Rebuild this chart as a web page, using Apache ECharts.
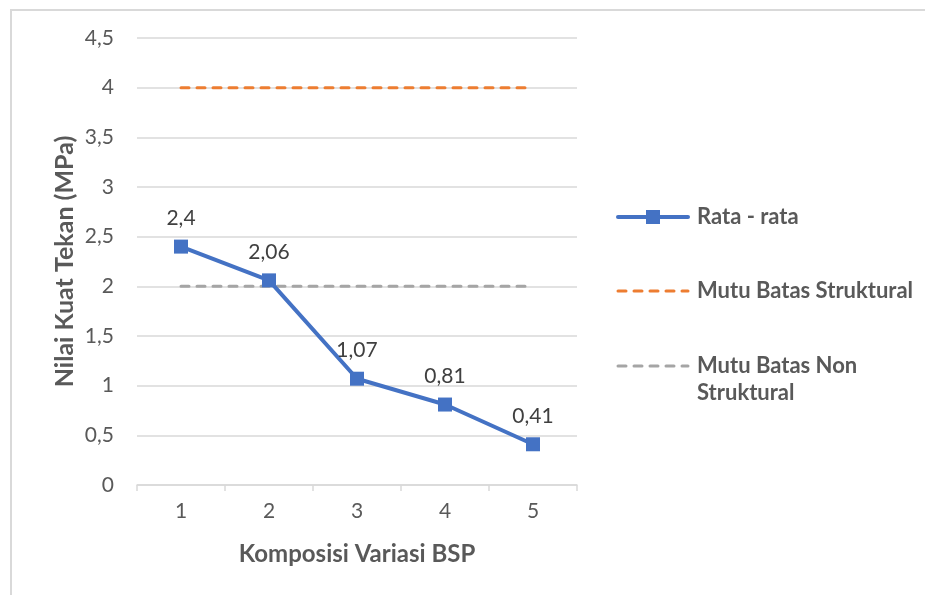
<!DOCTYPE html>
<html>
<head>
<meta charset="utf-8">
<script src="https://cdn.jsdelivr.net/npm/echarts@6/dist/echarts.min.js"></script>
<style>
  html, body { margin: 0; padding: 0; background: #fff; }
  #chart { width: 925px; height: 595px; }
</style>
</head>
<body>
<div id="chart"></div>
<script>
// Compressive strength per BSP composition variant
const categories = ['1', '2', '3', '4', '5'];
const rataRata = [2.4, 2.06, 1.07, 0.81, 0.41];
const batasStruktural = [4, 4, 4, 4, 4];
const batasNonStruktural = [2, 2, 2, 2, 2];

const seriesNames = ['Rata - rata', 'Mutu Batas Struktural', 'Mutu Batas Non Struktural'];
const colors = ['#4472C4', '#ED7D31', '#A5A5A5'];

const FONT = 'Lato, "Open Sans", sans-serif';
const fmt = v => String(v).replace('.', ',');
const DASH = [8, 8];

const chart = echarts.init(document.getElementById('chart'), null, { renderer: 'canvas' });

// Legend entry: sample line (optionally with marker) and label lines beside it
function legendItem(top, color, dashed, withMarker, lines) {
  const children = [
    {
      type: 'line',
      shape: { x1: 1, y1: 0, x2: 71, y2: 0 },
      style: {
        stroke: color,
        lineWidth: dashed ? 3 : 4,
        lineDash: dashed ? DASH : null,
        lineCap: 'round'
      }
    }
  ];
  lines.forEach((t, i) => {
    children.push({
      type: 'text',
      style: {
        x: 80, y: i * 27,
        text: t,
        fill: '#595959',
        font: 'bold 22px ' + FONT,
        textVerticalAlign: 'middle'
      }
    });
  });
  if (withMarker) {
    children.push({
      type: 'rect',
      shape: { x: 29, y: -7, width: 14, height: 14 },
      style: { fill: color }
    });
  }
  return { type: 'group', x: 617, y: top, silent: true, children: children };
}

chart.setOption({
  animation: false,
  backgroundColor: '#fff',
  textStyle: { fontFamily: FONT },
  legend: { show: false },
  grid: { left: 137, right: 348, top: 38, bottom: 110, containLabel: false },
  xAxis: {
    type: 'category',
    data: categories,
    boundaryGap: true,
    name: 'Komposisi Variasi BSP',
    nameLocation: 'middle',
    nameGap: 57,
    nameTextStyle: { color: '#595959', fontSize: 24, fontWeight: 'bold', fontFamily: FONT },
    axisLine: { lineStyle: { color: '#D9D9D9', width: 1.5 } },
    axisTick: { show: true, length: 6, alignWithLabel: false, lineStyle: { color: '#D9D9D9', width: 1.5 } },
    axisLabel: { color: '#595959', fontSize: 21, margin: 16, fontFamily: FONT }
  },
  yAxis: {
    type: 'value',
    min: 0,
    max: 4.5,
    interval: 0.5,
    name: 'Nilai Kuat Tekan (MPa)',
    nameLocation: 'middle',
    nameGap: 60,
    nameTextStyle: { color: '#595959', fontSize: 25, fontWeight: 'bold', fontFamily: FONT },
    axisLine: { show: false },
    axisTick: { show: false },
    axisLabel: { color: '#595959', fontSize: 21, margin: 23, fontFamily: FONT, formatter: fmt },
    splitLine: { lineStyle: { color: '#D9D9D9', width: 1.5 } }
  },
  series: [
    {
      name: seriesNames[1],
      type: 'line',
      data: batasStruktural,
      symbol: 'none',
      lineStyle: { color: colors[1], width: 3, type: DASH, cap: 'round' },
      z: 2
    },
    {
      name: seriesNames[2],
      type: 'line',
      data: batasNonStruktural,
      symbol: 'none',
      lineStyle: { color: colors[2], width: 3, type: DASH, cap: 'round' },
      z: 2
    },
    {
      name: seriesNames[0],
      type: 'line',
      data: rataRata,
      symbol: 'rect',
      symbolSize: 14,
      itemStyle: { color: colors[0] },
      lineStyle: { color: colors[0], width: 4 },
      label: {
        show: true,
        position: 'top',
        distance: 11,
        color: '#404040',
        fontSize: 21,
        fontFamily: FONT,
        formatter: p => fmt(p.value)
      },
      z: 3
    }
  ],
  graphic: [
    {
      type: 'polyline',
      shape: { points: [[11, 600], [11, 10], [930, 10]] },
      style: { stroke: '#D9D9D9', lineWidth: 2, fill: null },
      silent: true
    },
    legendItem(217, colors[0], false, true, ['Rata - rata']),
    legendItem(291, colors[1], true, false, ['Mutu Batas Struktural']),
    legendItem(366, colors[2], true, false, ['Mutu Batas Non', 'Struktural'])
  ]
});
</script>
</body>
</html>
